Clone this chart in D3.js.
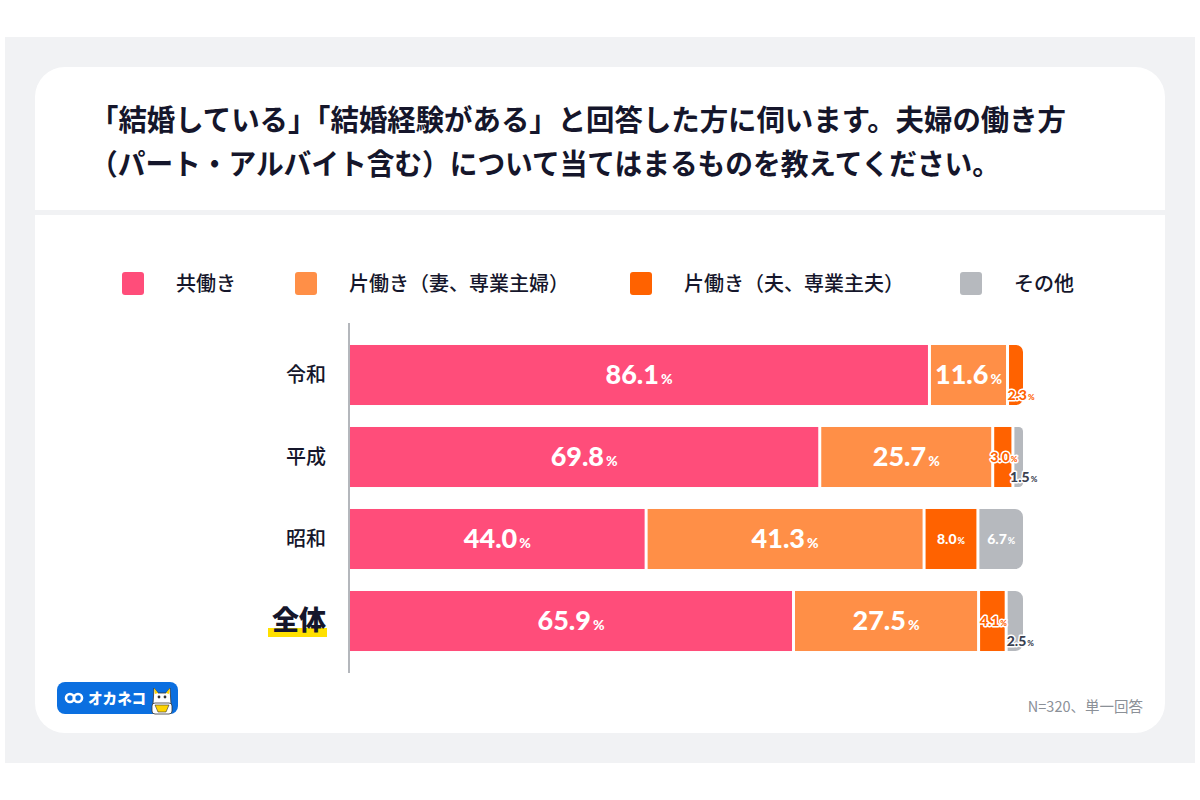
<!DOCTYPE html>
<html><head><meta charset="utf-8">
<script src="https://cdn.jsdelivr.net/npm/d3@7"></script>
<style>
html,body{margin:0;padding:0;background:#fff;}
svg{display:block;}
</style></head>
<body>
<svg id="chart" width="1200" height="800"></svg>
<script>
const categories = ["令和", "平成", "昭和", "全体"];
const seriesNames = ["共働き", "片働き（妻、専業主婦）", "片働き（夫、専業主夫）", "その他"];
const seriesColors = ["#ff4d7a", "#ff8f47", "#ff6200", "#b6b9be"];
const valuesKyo = [86.1, 69.8, 44.0, 65.9];
const valuesTsuma = [11.6, 25.7, 41.3, 27.5];
const valuesOtto = [2.3, 3.0, 8.0, 4.1];
const valuesOther = [0, 1.5, 6.7, 2.5];
const titleLines = ["「結婚している」「結婚経験がある」と回答した方に伺います。夫婦の働き方",
                    "（パート・アルバイト含む）について当てはまるものを教えてください。"];
const footnote = "N=320、単一回答";

const seriesValues = [valuesKyo, valuesTsuma, valuesOtto, valuesOther];
const svg = d3.select("#chart");
const JP = "'Noto Sans CJK JP','Noto Sans',sans-serif";
const NUM = "Lato,'Noto Sans',sans-serif";
const dark = "#15162b";

// background panels
svg.append("rect").attr("x",5).attr("y",37).attr("width",1190).attr("height",726).attr("fill","#f1f2f4");
svg.append("rect").attr("x",35).attr("y",67).attr("width",1130).attr("height",666).attr("rx",30).attr("fill","#fff");
svg.append("rect").attr("x",35).attr("y",210).attr("width",1130).attr("height",5).attr("fill","#f1f2f4");

// title
const tl = [976, 910];
titleLines.forEach((t,i)=>{
  svg.append("text").attr("x",90).attr("y",131+i*44)
    .attr("font-family",JP).attr("font-weight",700).attr("font-size",29)
    .attr("fill",dark).attr("textLength",tl[i]).attr("lengthAdjust","spacingAndGlyphs")
    .text(t);
});

// legend
const legendX = [122, 295, 630, 960];
seriesNames.forEach((n,i)=>{
  svg.append("rect").attr("x",legendX[i]).attr("y",272).attr("width",22).attr("height",23).attr("rx",3).attr("fill",seriesColors[i]);
  svg.append("text").attr("x",legendX[i]+54).attr("y",291)
    .attr("font-family",JP).attr("font-weight",500).attr("font-size",20).attr("fill",dark).text(n);
});

// scales
const x = d3.scaleLinear().domain([0,100]).range([350,1023]);
const y = d3.scaleBand().domain(categories).range([334,662]).paddingInner(0.268).paddingOuter(0.134);
const bh = y.bandwidth();

// category labels
const lab = svg.append("g");
categories.forEach((c,i)=>{
  const last = i===categories.length-1;
  if (last){
    lab.append("rect").attr("x",268).attr("y",y(c)+bh/2+7).attr("width",59).attr("height",9).attr("fill","#ffe000");
  }
  lab.append("text").attr("x",326).attr("y",y(c)+bh/2+(last?9:7)).attr("text-anchor","end")
    .attr("font-family",JP).attr("font-weight",last?900:500)
    .attr("font-size",last?27:20).attr("fill",dark).text(c);
});

function roundRight(x0,y0,w,h,r){
  r = Math.min(r, w/2, h/2);
  return `M${x0},${y0}H${x0+w-r}A${r},${r} 0 0 1 ${x0+w},${y0+r}V${y0+h-r}A${r},${r} 0 0 1 ${x0+w-r},${y0+h}H${x0}Z`;
}

const bars = svg.append("g");
const labels = svg.append("g");
categories.forEach((c,ci)=>{
  const vals = seriesValues.map(s=>s[ci]);
  let lastIdx = vals.reduce((a,v,i)=>v>0?i:a,0);
  let cum = 0;
  const yc = y(c)+bh/2;
  vals.forEach((v,si)=>{
    if (v<=0) return;
    const x0 = x(cum) + (si>0?1.5:0);
    const x1 = x(cum+v) - (si<lastIdx?1.5:0);
    cum += v;
    if (si===lastIdx){
      bars.append("path").attr("d",roundRight(x0,y(c),x1-x0,bh,8)).attr("fill",seriesColors[si]);
    } else {
      bars.append("rect").attr("x",x0).attr("y",y(c)).attr("width",x1-x0).attr("height",bh).attr("fill",seriesColors[si]);
    }
    const cx = (x0+x1)/2;
    const txt = labels.append("text").attr("text-anchor","middle").attr("font-family",NUM).attr("font-weight",900);
    const num = v.toFixed(1);
    if (v>=10){
      txt.attr("x",cx).attr("y",yc+9).attr("fill","#fff");
      txt.append("tspan").attr("font-size",27).text(num);
      txt.append("tspan").attr("font-size",14).attr("dx",2).text("%");
    } else if (v>=5){
      txt.attr("x",cx).attr("y",yc+5).attr("fill","#fff");
      txt.append("tspan").attr("font-size",14).text(num);
      txt.append("tspan").attr("font-size",9).attr("dx",1).text("%");
    } else {
      const isLast = si===lastIdx;
      const ly = isLast ? yc+25 : yc+5;
      const lx = isLast ? cx+5 : cx+1;
      txt.attr("x",lx).attr("y",ly)
        .attr("fill", si===3 ? "#3a4150" : seriesColors[si])
        .attr("stroke","#fff").attr("stroke-width",3).attr("paint-order","stroke").attr("stroke-linejoin","round");
      txt.append("tspan").attr("font-size",14).text(num);
      txt.append("tspan").attr("font-size",8).attr("dx",1).text("%");
    }
  });
});

// axis line
svg.append("line").attr("x1",349).attr("x2",349).attr("y1",323).attr("y2",673).attr("stroke","#b4b7bc").attr("stroke-width",2);

// footnote
svg.append("text").attr("x",1143).attr("y",712).attr("text-anchor","end")
  .attr("font-family",JP).attr("font-size",14.5).attr("fill","#8b9097").text(footnote);

// logo
const lg = svg.append("g");
lg.append("rect").attr("x",57).attr("y",682).attr("width",121).attr("height",32).attr("rx",8).attr("fill","#0b6fe0");
lg.append("ellipse").attr("cx",70).attr("cy",698).attr("rx",4).attr("ry",4).attr("fill","none").attr("stroke","#fff").attr("stroke-width",2.6);
lg.append("ellipse").attr("cx",78).attr("cy",698).attr("rx",4).attr("ry",4).attr("fill","none").attr("stroke","#fff").attr("stroke-width",2.6);
lg.append("text").attr("x",88).attr("y",704).attr("font-family",JP).attr("font-weight",900).attr("font-size",15)
  .attr("textLength",58).attr("lengthAdjust","spacingAndGlyphs").attr("fill","#fff").text("オカネコ");
// cat
lg.append("path").attr("d","M153,704 L154,688 L158,693 L166,693 L170,688 L171,704 Z").attr("fill","#fff").attr("stroke","#333").attr("stroke-width",0.8);
lg.append("path").attr("d","M154,688 L158,693 L155,694 Z M170,688 L166,693 L169,694 Z").attr("fill","#ffd400");
lg.append("rect").attr("x",152).attr("y",703).attr("width",20).attr("height",11).attr("rx",3).attr("fill","#fff").attr("stroke","#333").attr("stroke-width",0.8);
lg.append("path").attr("d","M155,705 H169 L166,712 H158 Z").attr("fill","#ffd400").attr("stroke","#333").attr("stroke-width",0.6);
lg.append("circle").attr("cx",159).attr("cy",697).attr("r",1.4).attr("fill","#333");
lg.append("circle").attr("cx",165).attr("cy",697).attr("r",1.4).attr("fill","#333");
</script>
</body></html>
